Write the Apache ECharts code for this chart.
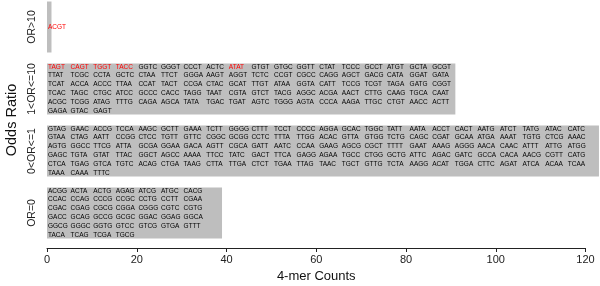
<!DOCTYPE html>
<html>
<head>
<meta charset="utf-8">
<script src="https://cdn.jsdelivr.net/npm/echarts@6/dist/echarts.min.js"></script>
<style>
  html, body { margin: 0; padding: 0; background: #fff; }
  #chart { width: 600px; height: 286px; }
</style>
</head>
<body>
<div id="chart"></div>
<script>
  // categories, bottom to top
  var categories = ['OR=0', '0<OR<=1', '1<OR<=10', 'OR>10']
  var counts = [39, 123, 91, 1]
  var xTicks = [0, 20, 40, 60, 80, 100, 120]

  // 4-mers listed inside each bar
  var kmersOR0 = [
    'ACGG', 'ACTA', 'ACTG', 'AGAG', 'ATCG', 'ATGC', 'CACG',
    'CCAC', 'CCAG', 'CCCG', 'CCGC', 'CCTG', 'CCTT', 'CGAA',
    'CGAC', 'CGAG', 'CGCG', 'CGGA', 'CGGG', 'CGTC', 'CGTG',
    'GACC', 'GCAG', 'GCCG', 'GCGC', 'GGAC', 'GGAG', 'GGCA',
    'GGCG', 'GGGC', 'GGTG', 'GTCC', 'GTCG', 'GTGA', 'GTTT',
    'TACA', 'TCAG', 'TCGA', 'TGCG'
  ]
  var kmersOR0to1 = [
    'GTAG', 'GAAC', 'ACCG', 'TCCA', 'AAGC', 'GCTT', 'GAAA', 'TCTT', 'GGGG', 'CTTT', 'TCCT', 'CCCC',
    'AGGA', 'GCAC', 'TGGC', 'TATT', 'AATA', 'ACCT', 'CACT', 'AATG', 'ATCT', 'TATG', 'ATAC', 'CATC',
    'GTAA', 'CTAG', 'AATT', 'CCGG', 'CTCC', 'TGTT', 'GTTC', 'CGGC', 'GCGG', 'CCTC', 'TTTA', 'TTGG',
    'ACAC', 'GTTA', 'GTGG', 'TCTG', 'CAGC', 'CGAT', 'GCAA', 'ATGA', 'AAAT', 'TGTG', 'CTCG', 'AAAC',
    'AGTG', 'GGCC', 'TTCG', 'ATTA', 'GCGA', 'GGAA', 'GACA', 'AGTT', 'CGCA', 'GATT', 'AATC', 'CCAA',
    'GAAG', 'AGCG', 'CGCT', 'TTTT', 'GAAT', 'AAAG', 'AGGG', 'AACA', 'CAAC', 'ATTT', 'ATTG', 'ATGG',
    'GAGC', 'TGTA', 'GTAT', 'TTAC', 'GGCT', 'AGCC', 'AAAA', 'TTCC', 'TATC', 'GACT', 'TTCA', 'GAGG',
    'AGAA', 'TGCC', 'CTGG', 'GCTG', 'ATTC', 'AGAC', 'GATC', 'GCCA', 'CACA', 'AACG', 'CGTT', 'CATG',
    'CTCA', 'TGAG', 'GTCA', 'TGTC', 'ACAG', 'CTGA', 'TAAG', 'CTTA', 'TTGA', 'CTCT', 'TGAA', 'TTAG',
    'TAAC', 'TGCT', 'GTTG', 'TCTA', 'AAGG', 'ACAT', 'TGGA', 'CTTC', 'AGAT', 'ATCA', 'ACAA', 'TCAA',
    'TAAA', 'CAAA', 'TTTC'
  ]
  var kmersOR1to10 = [
    'TAGT', 'CAGT', 'TGGT', 'TACC', 'GGTC', 'GGGT', 'CCCT', 'ACTC', 'ATAT', 'GTGT', 'GTGC', 'GGTT', 'CTAT', 'TCCC', 'GCCT', 'ATGT', 'GCTA', 'GCGT',
    'TTAT', 'TCGC', 'CCTA', 'GCTC', 'CTAA', 'TTCT', 'GGGA', 'AAGT', 'AGGT', 'TCTC', 'CCGT', 'CGCC', 'CAGG', 'AGCT', 'GACG', 'CATA', 'GGAT', 'GATA',
    'TCAT', 'ACCA', 'ACCC', 'TTAA', 'CCAT', 'TACT', 'CCGA', 'CTAC', 'GCAT', 'TTGT', 'ATAA', 'GGTA', 'CATT', 'TCCG', 'TCGT', 'TAGA', 'GATG', 'CGGT',
    'TCAC', 'TAGC', 'CTGC', 'ATCC', 'GCCC', 'CACC', 'TAGG', 'TAAT', 'CGTA', 'GTCT', 'TACG', 'AGGC', 'ACGA', 'AACT', 'CTTG', 'CAAG', 'TGCA', 'CAAT',
    'ACGC', 'TCGG', 'ATAG', 'TTTG', 'CAGA', 'AGCA', 'TATA', 'TGAC', 'TGAT', 'AGTC', 'TGGG', 'AGTA', 'CCCA', 'AAGA', 'TTGC', 'CTGT', 'AACC', 'ACTT',
    'GAGA', 'GTAC', 'GAGT'
  ]
  var kmersOR10 = ['ACGT']
  var redKmers = ['TAGT', 'CAGT', 'TGGT', 'TACC', 'ATAT', 'ACGT']

  var kmerLists = [kmersOR0, kmersOR0to1, kmersOR1to10, kmersOR10]
  var perRow = [7, 24, 18, 1]

  function kmerText(list, n) {
    var lines = []
    for (var i = 0; i < list.length; i += n) {
      lines.push(list.slice(i, i + n).map(function (k) {
        return (redKmers.indexOf(k) >= 0 ? '{r|' : '{k|') + k + '}'
      }).join(''))
    }
    return lines.join('\n')
  }

  var font = 'Liberation Sans, Arial, sans-serif'
  var chart = echarts.init(document.getElementById('chart'))
  chart.setOption({
    animation: false,
    backgroundColor: '#fff',
    textStyle: { fontFamily: font },
    grid: { left: 47, right: 14.5, top: -4, bottom: 42, outerBoundsMode: 'none', containLabel: false },
    xAxis: {
      type: 'value',
      min: 0,
      max: 120,
      interval: 20,
      offset: 4,
      name: '4-mer Counts',
      nameLocation: 'middle',
      nameGap: 18,
      nameTextStyle: { fontSize: 13, color: '#111', fontFamily: font },
      axisLine: { show: true, lineStyle: { color: '#222', width: 1 } },
      axisTick: { show: true, length: 4, lineStyle: { color: '#222' } },
      axisLabel: {
        fontSize: 11,
        color: '#222',
        margin: 6,
        fontFamily: font,
        formatter: function (v) { return xTicks.indexOf(v) >= 0 ? String(v) : '' }
      },
      splitLine: { show: false }
    },
    yAxis: {
      type: 'category',
      data: categories,
      name: 'Odds Ratio',
      nameLocation: 'middle',
      nameRotate: 90,
      nameGap: 27,
      nameTextStyle: { fontSize: 14.5, color: '#111', fontFamily: font },
      axisLine: { show: false },
      axisTick: { show: false },
      axisLabel: { interval: 0, rotate: 90, fontSize: 10.5, color: '#222', margin: 9, fontFamily: font, hideOverlap: false },
      splitLine: { show: false }
    },
    series: [{
      type: 'bar',
      barWidth: 51,
      clip: false,
      itemStyle: { color: '#bebebe' },
      label: {
        show: true,
        position: 'insideLeft',
        distance: 1,
        textBorderWidth: 0,
        rich: {
          k: { width: 22.6, fontSize: 6.5, lineHeight: 8.9, color: '#000', fontFamily: font },
          r: { width: 22.6, fontSize: 6.5, lineHeight: 8.9, color: '#ff0000', fontFamily: font }
        }
      },
      data: counts.map(function (v, i) {
        return { value: v, label: { formatter: kmerText(kmerLists[i], perRow[i]) } }
      })
    }]
  })
</script>
</body>
</html>
